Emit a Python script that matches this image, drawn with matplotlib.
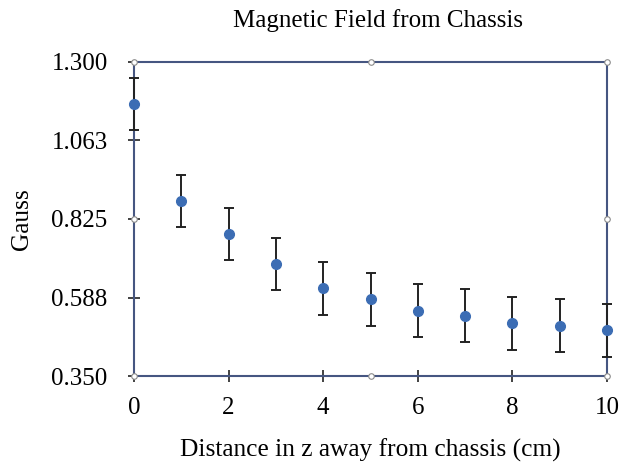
import matplotlib
matplotlib.use("Agg")
import matplotlib.pyplot as plt

distance = [0, 1, 2, 3, 4, 5, 6, 7, 8, 9, 10]
gauss = [1.173, 0.879, 0.780, 0.689, 0.615, 0.582, 0.548, 0.532, 0.510, 0.502, 0.489]
gauss_err = [0.08, 0.078, 0.078, 0.08, 0.08, 0.08, 0.08, 0.08, 0.08, 0.08, 0.08]

y_ticks = [0.35, 0.5875, 0.825, 1.0625, 1.3]
y_labels = ["0.350", "0.588", "0.825", "1.063", "1.300"]
x_ticks = [0, 2, 4, 6, 8, 10]

plt.rcParams["font.family"] = ["Liberation Serif", "DejaVu Serif"]
frame = "#465681"

fig = plt.figure(figsize=(6.19, 4.66), dpi=100)
ax = fig.add_axes([0.2165, 0.1931, 0.7641, 0.6739])

ax.errorbar(distance, gauss, yerr=gauss_err, fmt="o", color="#3C6DB4",
            markersize=7, ecolor="#222222", elinewidth=1.4, capsize=3.8,
            capthick=1.4, clip_on=False, zorder=3)

ax.set_xlim(0, 10)
ax.set_ylim(0.35, 1.3)
ax.set_xticks(x_ticks)
ax.set_yticks(y_ticks)
ax.set_yticklabels(y_labels)
ax.tick_params(direction="inout", length=8, width=1.2, color="#222222",
               labelsize=18)
ax.tick_params(axis="y", pad=15)
ax.tick_params(axis="x", pad=11)

for s in ax.spines.values():
    s.set_color(frame)
    s.set_linewidth(1.5)

# selection handles around the plot frame
hx = [0, 0.5, 1, 1, 1, 0.5, 0, 0]
hy = [1, 1, 1, 0.5, 0, 0, 0, 0.5]
ax.plot(hx, hy, "o", transform=ax.transAxes, clip_on=False, markersize=4,
        markerfacecolor="white", markeredgecolor="#8A8A8A", markeredgewidth=0.8,
        zorder=5)

fig.text(378 / 619, 1 - 27 / 466, "Magnetic Field from Chassis", fontsize=18,
         ha="center", va="baseline")
ax.set_xlabel("Distance in z away from chassis (cm)", fontsize=18.3, labelpad=14)
ax.set_ylabel("Gauss", fontsize=18.3, labelpad=13)

fig.savefig("out.png", dpi=100)
